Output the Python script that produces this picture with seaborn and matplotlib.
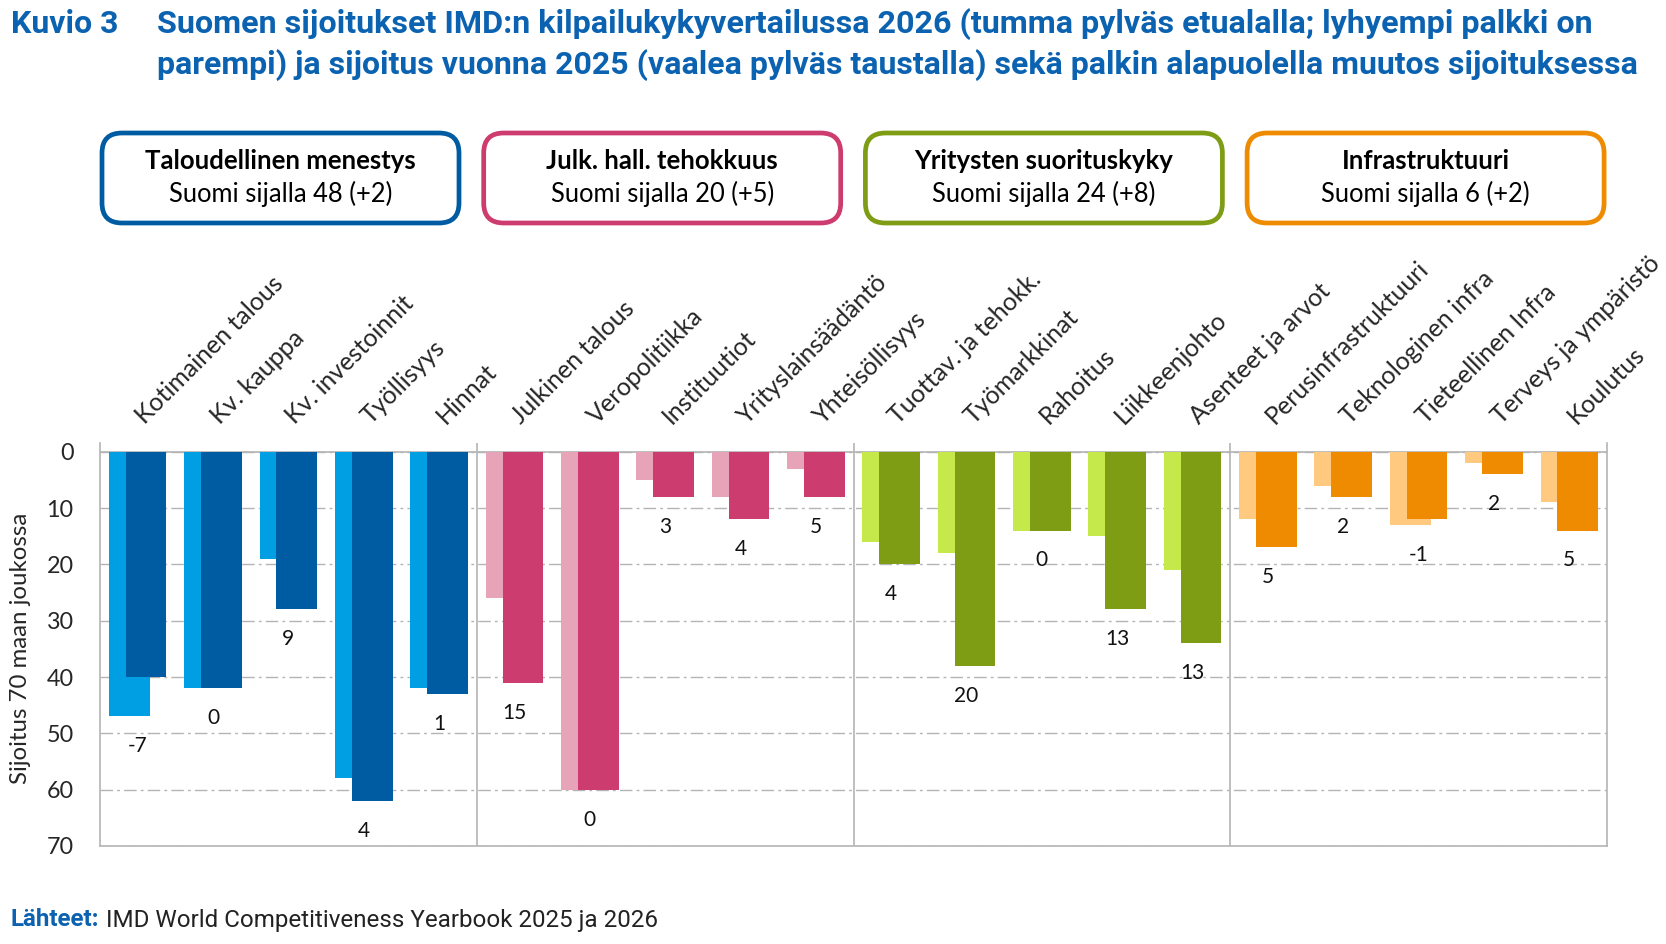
import matplotlib
matplotlib.use("Agg")
import matplotlib.pyplot as plt
from matplotlib.patches import FancyBboxPatch
from matplotlib.transforms import ScaledTranslation
import pandas as pd
import seaborn as sns

# data
categories = [
    "Kotimainen talous", "Kv. kauppa", "Kv. investoinnit", "Työllisyys", "Hinnat",
    "Julkinen talous", "Veropolitiikka", "Instituutiot", "Yrityslainsäädäntö", "Yhteisöllisyys",
    "Tuottav. ja tehokk.", "Työmarkkinat", "Rahoitus", "Liikkeenjohto", "Asenteet ja arvot",
    "Perusinfrastruktuuri", "Teknologinen infra", "Tieteellinen Infra", "Terveys ja ympäristö", "Koulutus",
]
groups = [0] * 5 + [1] * 5 + [2] * 5 + [3] * 5
rank_2025 = [47, 42, 19, 58, 42, 26, 60, 5, 8, 3, 16, 18, 14, 15, 21, 12, 6, 13, 2, 9]
rank_2026 = [40, 42, 28, 62, 43, 41, 60, 8, 12, 8, 20, 38, 14, 28, 34, 17, 8, 12, 4, 14]
change_labels = ["-7", "0", "9", "4", "1", "15", "0", "3", "4", "5",
                 "4", "20", "0", "13", "13", "5", "2", "-1", "2", "5"]

factor_names = ["Taloudellinen menestys", "Julk. hall. tehokkuus",
                "Yritysten suorituskyky", "Infrastruktuuri"]
factor_texts = ["Suomi sijalla 48 (+2)", "Suomi sijalla 20 (+5)",
                "Suomi sijalla 24 (+8)", "Suomi sijalla 6 (+2)"]

light_colors = ["#009FE3", "#E7A3B8", "#C5E84B", "#FFCA80"]
dark_colors = ["#005CA2", "#CC3C6E", "#7F9C15", "#EF8B00"]
title_blue = "#0A62B0"
grey = "#B4B4B4"

df = pd.DataFrame({
    "kategoria": categories,
    "ryhma": groups,
    "v2025": rank_2025,
    "v2026": rank_2026,
})

sns.set_style("white")
plt.rcParams["font.family"] = ["Lato", "DejaVu Sans"]
roboto = ["Roboto", "DejaVu Sans"]

W, H = 1666, 944
fig = plt.figure(figsize=(W / 100, H / 100), dpi=100)
ax = fig.add_axes([100 / W, 1 - 846 / H, 1507 / W, 403 / H])

bar_w = 0.54
shift = 0.112

# background bars (2025)
n0 = len(ax.patches)
sns.barplot(data=df, x="kategoria", y="v2025", hue="kategoria",
            palette={c: light_colors[g] for c, g in zip(categories, groups)},
            width=bar_w, saturation=1, errorbar=None, legend=False,
            linewidth=0, ax=ax)
for p in ax.patches[n0:]:
    p.set_x(p.get_x() - shift)
    p.set_zorder(2)

# foreground bars (2026)
n1 = len(ax.patches)
sns.barplot(data=df, x="kategoria", y="v2026", hue="kategoria",
            palette={c: dark_colors[g] for c, g in zip(categories, groups)},
            width=bar_w, saturation=1, errorbar=None, legend=False,
            linewidth=0, ax=ax)
for p in ax.patches[n1:]:
    p.set_x(p.get_x() + shift)
    p.set_zorder(3)

# change labels under the bars
for i, lab in enumerate(change_labels):
    y = max(rank_2025[i], rank_2026[i]) + 5.3
    ax.text(i, y, lab, ha="center", va="center", fontsize=15, color="#111111", zorder=4)

ax.set_ylim(70, -1.55)
ax.set_xlim(-0.5, len(categories) - 0.5)
ax.set_yticks(range(0, 71, 10))
ax.tick_params(axis="y", length=0, pad=19, labelsize=16.8)
ax.set_xlabel("")
ax.set_ylabel("")

ax.xaxis.tick_top()
ax.set_xticks(range(len(categories)))
ax.set_xticklabels(categories, rotation=45, ha="left", va="baseline",
                   rotation_mode="anchor", fontsize=18)
ax.tick_params(axis="x", length=0, pad=13)
offset = ScaledTranslation(7 / 100, 0, fig.dpi_scale_trans)
for lab in ax.get_xticklabels():
    lab.set_transform(lab.get_transform() + offset)

ax.yaxis.grid(True, color=grey, linestyle=(0, (9, 3, 2, 3)), linewidth=1)
ax.set_axisbelow(True)
ax.axhline(0, color=grey, lw=1.2, zorder=1)
for xs in [4.5, 9.5, 14.5]:
    ax.axvline(xs, color=grey, lw=1.2, zorder=1)

ax.spines["top"].set_visible(False)
for s in ["left", "right", "bottom"]:
    ax.spines[s].set_color(grey)
    ax.spines[s].set_linewidth(1.2)

fig.text(21 / W, 1 - 648 / H, "Sijoitus 70 maan joukossa", rotation=90,
         ha="center", va="center", fontsize=17.3)

# title
fig.text(11 / W, 1 - 24 / H, "Kuvio 3", ha="left", va="center", fontsize=23,
         fontweight="bold", color=title_blue, family=roboto)
fig.text(157 / W, 1 - 24 / H,
         "Suomen sijoitukset IMD:n kilpailukykyvertailussa 2026 (tumma pylväs etualalla; lyhyempi palkki on",
         ha="left", va="center", fontsize=23.2, fontweight="bold", color=title_blue,
         family=roboto)
fig.text(157 / W, 1 - 65 / H,
         "parempi) ja sijoitus vuonna 2025 (vaalea pylväs taustalla) sekä palkin alapuolella muutos sijoituksessa",
         ha="left", va="center", fontsize=23, fontweight="bold", color=title_blue,
         family=roboto)

# factor boxes
for k in range(4):
    x0 = 102 + k * 381.7
    box = FancyBboxPatch((x0 / W, 1 - 223 / H), 357 / W, 90 / H,
                         boxstyle="round,pad=0,rounding_size=0.012",
                         transform=fig.transFigure, facecolor="white",
                         edgecolor=dark_colors[k], linewidth=3.4,
                         mutation_aspect=W / H)
    fig.patches.append(box)
    cx = (x0 + 178.5) / W
    fig.text(cx, 1 - 161 / H, factor_names[k], ha="center", va="center",
             fontsize=18.5, fontweight="bold", color="black")
    fig.text(cx, 1 - 194 / H, factor_texts[k], ha="center", va="center",
             fontsize=18.4, color="black")

# source
src_head = fig.text(11 / W, 1 - 920 / H, "Lähteet:", ha="left", va="center",
                    fontsize=17.4, fontweight="bold", color=title_blue, family=roboto)
fig.canvas.draw()
bb = src_head.get_window_extent()
fig.text((bb.x1 + 6) / W, 1 - 920 / H, "IMD World Competitiveness Yearbook 2025 ja 2026",
         ha="left", va="center", fontsize=17.4, color="#222222", family=roboto)

fig.savefig("out.png", dpi=100)
